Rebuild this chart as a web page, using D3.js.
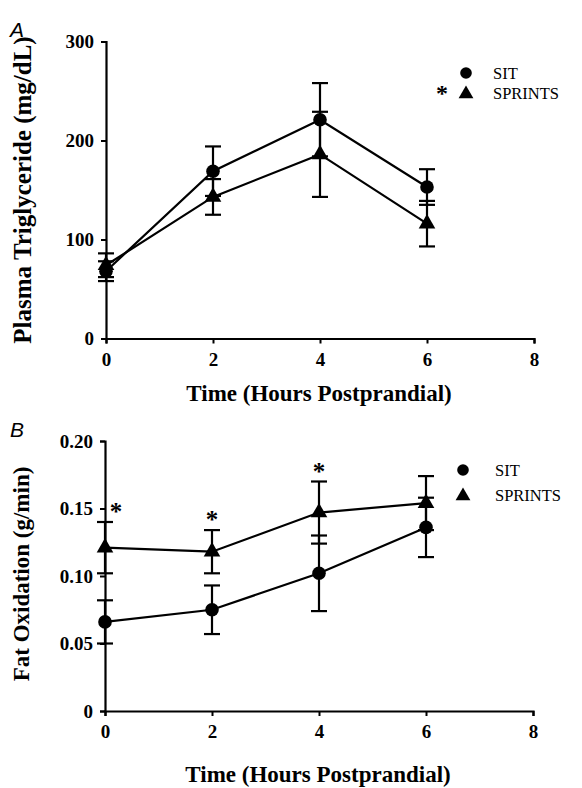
<!DOCTYPE html>
<html>
<head>
<meta charset="utf-8">
<script src="https://cdn.jsdelivr.net/npm/d3@7"></script>
<style>
  html, body { margin: 0; padding: 0; background: #fff; }
  svg { display: block; }
</style>
</head>
<body>
<svg id="chart" width="582" height="788"></svg>
<script>
// ---------- DATA ----------
const hours = [0, 2, 4, 6];
const xTicks = [0, 2, 4, 6, 8];
const seriesNames = ["SIT", "SPRINTS"];

// Panel A: Plasma triglyceride (mg/dL)
const tgSit = [68, 169, 221, 153];
const tgSitErr = [10, 25, 37, 18];
const tgSprints = [74, 143, 186, 116];
const tgSprintsErr = [12, 18, 43, 23];
const tgTicks = [0, 100, 200, 300];

// Panel B: Fat oxidation (g/min)
const foSit = [0.066, 0.075, 0.102, 0.136];
const foSitErr = [0.016, 0.018, 0.028, 0.022];
const foSprints = [0.121, 0.118, 0.147, 0.154];
const foSprintsErr = [0.019, 0.016, 0.023, 0.020];
const foSignificant = [true, true, true, false];
const foTicks = [0, 0.05, 0.10, 0.15, 0.20];

// ---------- DRAW ----------
const svg = d3.select("#chart");
const serif = "'Liberation Serif', 'Times New Roman', serif";
const sans = "'Liberation Sans', Arial, sans-serif";

function panel(opts) {
  const g = svg.append("g");
  const x = d3.scaleLinear().domain([0, 8]).range(opts.xRange);
  const y = d3.scaleLinear().domain(opts.yDomain).range(opts.yRange);

  // axes
  const xAxis = d3.axisBottom(x).tickValues(xTicks).tickSize(5).tickPadding(9).tickFormat(d3.format("d"));
  const yAxis = d3.axisLeft(y).tickValues(opts.yTicks).tickSize(5).tickPadding(7).tickFormat(opts.yFormat);
  const gx = g.append("g").attr("transform", `translate(0,${opts.yRange[0]})`).call(xAxis);
  const gy = g.append("g").attr("transform", `translate(${opts.xRange[0]},0)`).call(yAxis);
  [gx, gy].forEach(ax => {
    ax.select(".domain").attr("stroke", "#000").attr("stroke-width", 2.2);
    ax.selectAll(".tick line").attr("stroke", "#000").attr("stroke-width", 2);
    ax.selectAll(".tick text").attr("fill", "#000")
      .style("font-family", serif).style("font-weight", "bold").style("font-size", "19px");
  });
  gx.selectAll(".tick text").attr("dy", "0.71em");

  // titles
  g.append("text").attr("x", (opts.xRange[0] + opts.xRange[1]) / 2 - 1).attr("y", opts.xTitleY)
    .attr("text-anchor", "middle").style("font-family", serif).style("font-weight", "bold")
    .style("font-size", "23px").text("Time (Hours Postprandial)");
  g.append("text").attr("transform", `translate(${opts.yTitleX},${opts.yTitleY}) rotate(-90)`)
    .attr("text-anchor", "middle").attr("dominant-baseline", "central")
    .style("font-family", serif).style("font-weight", "bold")
    .style("font-size", opts.yTitleSize).text(opts.yTitle);
  g.append("text").attr("x", 10).attr("y", opts.letterY)
    .style("font-family", sans).style("font-style", "italic").style("font-size", "21px").text(opts.letter);

  const line = d3.line().x((d, i) => x(hours[i])).y(d => y(d));
  const series = [
    { vals: opts.sit, err: opts.sitErr, shape: "circle" },
    { vals: opts.spr, err: opts.sprErr, shape: "triangle" }
  ];
  series.forEach(s => {
    g.append("path").datum(s.vals).attr("d", line)
      .attr("fill", "none").attr("stroke", "#000").attr("stroke-width", 2.2);
  });
  const cap = 8;
  series.forEach(s => {
    const eb = g.append("g").attr("stroke", "#000").attr("stroke-width", 2.2);
    s.vals.forEach((v, i) => {
      const cx = x(hours[i]);
      eb.append("line").attr("x1", cx).attr("x2", cx).attr("y1", y(v - s.err[i])).attr("y2", y(v + s.err[i]));
      eb.append("line").attr("x1", cx - cap).attr("x2", cx + cap).attr("y1", y(v + s.err[i])).attr("y2", y(v + s.err[i]));
      eb.append("line").attr("x1", cx - cap).attr("x2", cx + cap).attr("y1", y(v - s.err[i])).attr("y2", y(v - s.err[i]));
    });
  });
  series.forEach(s => {
    s.vals.forEach((v, i) => {
      const cx = x(hours[i]), cy = y(v);
      if (s.shape === "circle") {
        g.append("circle").attr("cx", cx).attr("cy", cy).attr("r", 6.8).attr("fill", "#000");
      } else {
        g.append("path").attr("d", d3.symbol().type(d3.symbolTriangle).size(120)())
          .attr("transform", `translate(${cx},${cy})`).attr("fill", "#000");
      }
    });
  });

  // legend
  const lg = g.append("g");
  seriesNames.forEach((name, i) => {
    const ly = opts.legendY[i];
    if (i === 0) {
      lg.append("circle").attr("cx", opts.legendX).attr("cy", ly).attr("r", 5.8).attr("fill", "#000");
    } else {
      lg.append("path").attr("d", d3.symbol().type(d3.symbolTriangle).size(95)())
        .attr("transform", `translate(${opts.legendX},${ly + 1})`).attr("fill", "#000");
    }
    lg.append("text").attr("x", opts.legendTextX).attr("y", ly).attr("dominant-baseline", "central")
      .style("font-family", serif).style("font-size", "16.5px").text(name);
  });
  if (opts.legendStar) {
    lg.append("text").attr("x", opts.legendX - 24).attr("y", opts.legendY[1] + 8)
      .attr("text-anchor", "middle").style("font-family", serif).style("font-weight", "bold")
      .style("font-size", "24px").text("*");
  }

  // significance asterisks
  if (opts.sig) {
    opts.sig.forEach((sgn, i) => {
      if (!sgn) return;
      const cx = x(hours[i]) + (i === 0 ? 11 : 0);
      const top = y(opts.spr[i] + opts.sprErr[i]);
      g.append("text").attr("x", cx).attr("y", top - 2).attr("text-anchor", "middle")
        .style("font-family", serif).style("font-weight", "bold").style("font-size", "25px").text("*");
    });
  }
}

panel({
  xRange: [106, 534], yRange: [338.5, 41.5], yDomain: [0, 300], yTicks: tgTicks,
  yFormat: d3.format("d"),
  sit: tgSit, sitErr: tgSitErr, spr: tgSprints, sprErr: tgSprintsErr,
  xTitleY: 401, yTitle: "Plasma Triglyceride (mg/dL)", yTitleX: 22, yTitleY: 190, yTitleSize: "25px",
  letter: "A", letterY: 37,
  legendX: 466, legendTextX: 493, legendY: [73, 93], legendStar: true
});

panel({
  xRange: [105, 533], yRange: [711, 441], yDomain: [0, 0.2], yTicks: foTicks,
  yFormat: d => d === 0 ? "0" : d3.format(".2f")(d),
  sit: foSit, sitErr: foSitErr, spr: foSprints, sprErr: foSprintsErr, sig: foSignificant,
  xTitleY: 782, yTitle: "Fat Oxidation (g/min)", yTitleX: 21, yTitleY: 574, yTitleSize: "23px",
  letter: "B", letterY: 437,
  legendX: 463, legendTextX: 495, legendY: [470, 495], legendStar: false
});
</script>
</body>
</html>
